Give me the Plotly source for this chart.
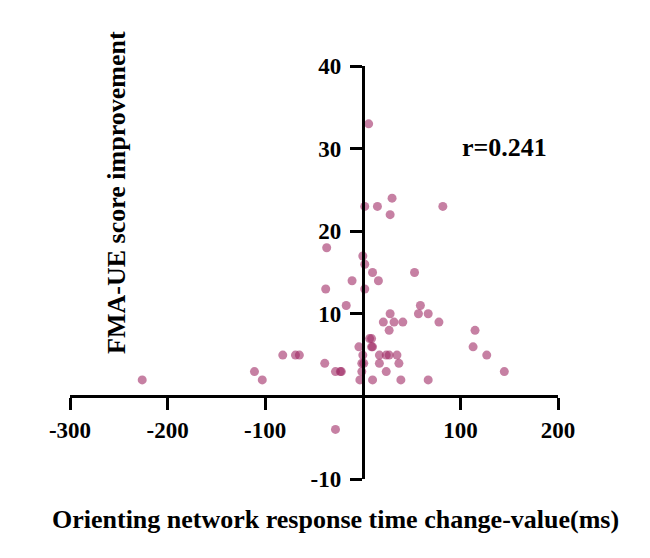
import plotly.graph_objects as go

# Orienting network response time change-value (ms)
x_vals = [6, 30, 2, 15, 28, 82, -37, 0, 2, 10, 53, -11, 16, -38, 2, -17, 59, 28, 57, 67,
          21, 32, 41, 78, 27, 115, 7, 9, -4, 9, 10, 113, 0, 17, 24, 27, 35, -82, -69, -65,
          127, -39, -1, 1, 17, 37, -28, -23, -22, -1, 24, -111, 145, -3, 10, 39, 67, -226,
          -103, -28]
# FMA-UE score improvement
y_vals = [33, 24, 23, 23, 22, 23, 18, 17, 16, 15, 15, 14, 14, 13, 13, 11, 11, 10, 10, 10,
          9, 9, 9, 9, 8, 8, 7, 7, 6, 6, 6, 6, 5, 5, 5, 5, 5, 5, 5, 5,
          5, 4, 4, 4, 4, 4, 3, 3, 3, 3, 3, 3, 3, 2, 2, 2, 2, 2,
          2, -4]

x_ticks = [-300, -200, -100, 100, 200]
y_ticks = [-10, 10, 20, 30, 40]
x_range = [-300, 200]
y_range = [-10, 40]
r_text = "r=0.241"

FONT = "Liberation Serif, Times New Roman, serif"

fig = go.Figure()
fig.add_trace(go.Scatter(
    x=x_vals, y=y_vals, mode="markers",
    marker=dict(size=9, color="rgb(160,43,102)", opacity=0.6, line=dict(width=0)),
    hoverinfo="x+y", showlegend=False,
))

ypos = (0 - y_range[0]) / (y_range[1] - y_range[0])
xpos = (0 - x_range[0]) / (x_range[1] - x_range[0])

tickfont = dict(family=FONT, size=23, color="black", weight="bold")

fig.update_layout(
    width=642, height=550,
    margin=dict(l=62, r=92, t=58, b=79),
    plot_bgcolor="white", paper_bgcolor="white",
    font=dict(family=FONT, size=20, color="black"),
    xaxis=dict(
        range=x_range, tickvals=x_ticks, ticktext=[str(v) for v in x_ticks],
        showgrid=False, zeroline=False, showline=True, linecolor="black", linewidth=3,
        ticks="outside", ticklen=12, tickwidth=3, tickcolor="black",
        anchor="free", position=ypos, tickfont=tickfont,
    ),
    yaxis=dict(
        range=y_range, tickvals=y_ticks, ticktext=[str(v) for v in y_ticks],
        showgrid=False, zeroline=False, showline=True, linecolor="black", linewidth=3,
        ticks="outside", ticklen=12, tickwidth=3, tickcolor="black",
        anchor="free", position=xpos, tickfont=tickfont, ticklabelstandoff=4,
    ),
    annotations=[
        dict(text="<b>FMA-UE score improvement</b>", xref="paper", yref="paper",
             x=0.0963, y=0.695, xanchor="center", yanchor="middle",
             textangle=-90, showarrow=False,
             font=dict(family=FONT, size=26, color="black")),
        dict(text="<b>Orienting network response time change-value(ms)</b>", xref="paper", yref="paper",
             x=0.545, y=-0.099, xanchor="center", yanchor="middle", showarrow=False,
             font=dict(family=FONT, size=26, color="black")),
        dict(text="<b>" + r_text + "</b>", xref="x", yref="y", x=145, y=30.1,
             xanchor="center", yanchor="middle", showarrow=False,
             font=dict(family=FONT, size=26, color="black")),
    ],
)

fig.write_html("out.html")
